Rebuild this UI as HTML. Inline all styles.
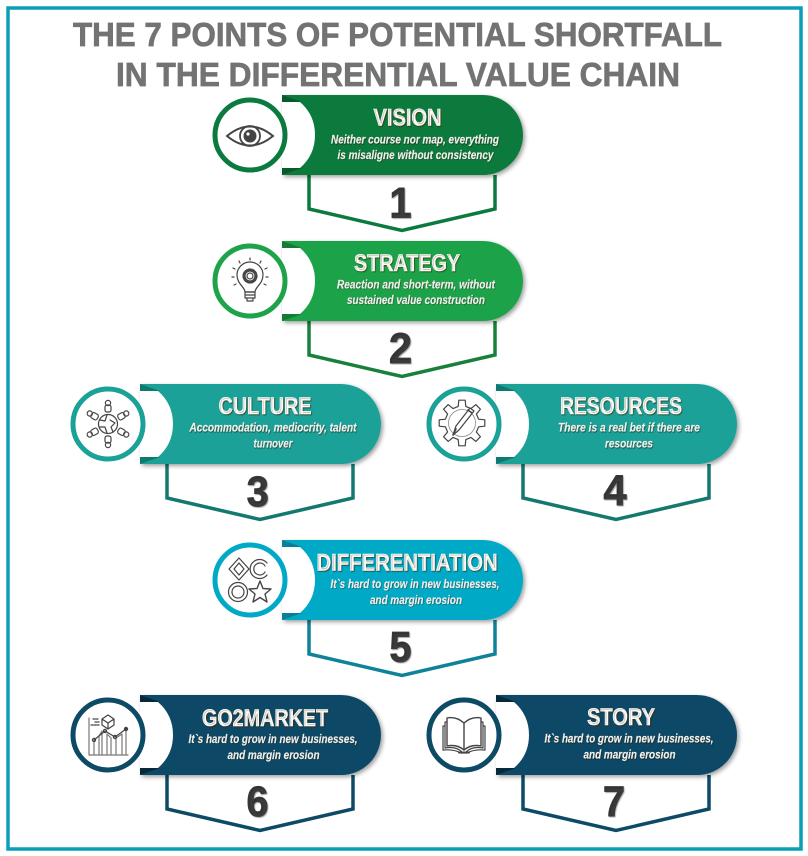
<!DOCTYPE html>
<html lang="en">
<head>
<meta charset="utf-8">
<title>The 7 Points of Potential Shortfall</title>
<style>
html,body{margin:0;padding:0;background:#fff;width:808px;height:856px;overflow:hidden}
svg{display:block}
text{font-family:"Liberation Sans",Arial,sans-serif;font-weight:700}
.h{font-size:33px;fill:#737373;stroke:#737373;stroke-width:.7px}
.t{font-size:24px;fill:#fff;stroke:#fff;stroke-width:.6px;text-anchor:middle;text-shadow:1px 1px 1px rgba(70,40,0,.6)}
.s{font-size:12px;font-style:italic;fill:#fff;stroke:#fff;stroke-width:.15px;text-anchor:middle;text-shadow:.7px .7px .7px rgba(40,30,0,.6)}
.n{font-size:43px;fill:#3b3b3b;stroke:#3b3b3b;stroke-width:1px;text-anchor:middle;text-shadow:1px 1px 1px rgba(0,0,0,.25)}
.i{fill:none;stroke:#444;stroke-width:1.2;stroke-linejoin:round;stroke-linecap:round}
</style>
</head>
<body>
<svg width="808" height="856" viewBox="0 0 808 856" xmlns="http://www.w3.org/2000/svg">
<defs>
<filter id="sh" x="-10%" y="-15%" width="125%" height="140%"><feDropShadow dx="2" dy="2" stdDeviation="2" flood-color="#000" flood-opacity=".38"/></filter>
<path id="ban" d="M0,0H201A40,40 0 0 1 201,80H0Z"/>
<path id="notch" d="M0,7H18Q33,20 33,40Q33,60 18,73H0Z"/>
<path id="fold" d="M0,0L20,7H0ZM0,80L20,73H0Z"/>
<path id="pent" d="M27,80V114L120,135.5L213,114V80" fill="none" stroke-width="3.5" stroke-linejoin="miter"/>
</defs>
<rect width="808" height="856" fill="#fff"/>
<rect x="8" y="8" width="793" height="841" fill="none" stroke="#0a9fb6" stroke-width="3.5"/>
<text class="h" x="73" y="46" textLength="649" lengthAdjust="spacingAndGlyphs">THE 7 POINTS OF POTENTIAL SHORTFALL</text>
<text class="h" x="116" y="86" textLength="564" lengthAdjust="spacingAndGlyphs">IN THE DIFFERENTIAL VALUE CHAIN</text>

<!-- 1 VISION -->
<g transform="translate(282,95)">
<use href="#pent" stroke="#0b7a3e"/>
<use href="#ban" fill="#0b7a3e" filter="url(#sh)"/><use href="#notch" fill="#fff"/><use href="#fold" fill="#075a2d"/>
<circle cx="-32" cy="40" r="35" fill="#fff" stroke="#0b7a3e" stroke-width="5"/>
<g transform="translate(-32,41)">
<path d="M-23,0Q0,-19 23,0Q0,19 -23,0Z" fill="none" stroke="#444" stroke-width="2"/>
<circle r="10" fill="none" stroke="#444" stroke-width="1.8"/>
<circle r="6.5" fill="#444"/><circle cx="-2" cy="-2" r="1.6" fill="#fff"/>
</g>
<text class="t" x="125.5" y="30.5" textLength="68" lengthAdjust="spacingAndGlyphs">VISION</text>
<text class="s" x="133" y="48.7" textLength="168" lengthAdjust="spacingAndGlyphs">Neither course nor map, everything</text>
<text class="s" x="133.5" y="64" textLength="156" lengthAdjust="spacingAndGlyphs">is misaligne without consistency</text>
<text class="n" x="118.5" y="122.5" textLength="22" lengthAdjust="spacingAndGlyphs">1</text>
</g>

<!-- 2 STRATEGY -->
<g transform="translate(282,241)">
<use href="#pent" stroke="#18803a"/>
<use href="#ban" fill="#1fa34a" filter="url(#sh)"/><use href="#notch" fill="#fff"/><use href="#fold" fill="#147a36"/>
<circle cx="-32" cy="40" r="35" fill="#fff" stroke="#1fa34a" stroke-width="5"/>
<g transform="translate(-32,40)" class="i">
<path d="M-5,11C-5,6 -13,3 -13,-6A13,13 0 0 1 13,-6C13,3 5,6 5,11Z"/>
<path d="M-5,11H5V17H-5ZM-5,14H5M-3,17V20H3V17"/>
<circle cy="-5" r="3"/>
<circle cy="-5" r="6.5" stroke-width="2.2" stroke-dasharray="2 1.6"/>
<circle cy="-5" r="5"/>
<path d="M0,-23V-21M-11,-20L-10,-18M11,-20L10,-18M-17,-13L-15,-12M17,-13L15,-12M-18,-4H-16M18,-4H16M-16,4L-14,3M16,4L14,3"/>
</g>
<text class="t" x="125" y="30" textLength="106" lengthAdjust="spacingAndGlyphs">STRATEGY</text>
<text class="s" x="134" y="47.3" textLength="158" lengthAdjust="spacingAndGlyphs">Reaction and short-term, without</text>
<text class="s" x="134" y="63" textLength="138" lengthAdjust="spacingAndGlyphs">sustained value construction</text>
<text class="n" x="118.5" y="122" textLength="23" lengthAdjust="spacingAndGlyphs">2</text>
</g>

<!-- 3 CULTURE -->
<g transform="translate(140,384)">
<use href="#pent" stroke="#13796f"/>
<use href="#ban" fill="#1aa198" filter="url(#sh)"/><use href="#notch" fill="#fff"/><use href="#fold" fill="#12776f"/>
<circle cx="-32" cy="40" r="35" fill="#fff" stroke="#1aa198" stroke-width="5"/>
<g transform="translate(-32,40)" class="i">
<circle r="9.5"/>
<path d="M-8,-4L-3,-3L-1,-9M2,-4L7,-1L3,3L5,8M-8,3L-3,3L-1,9"/>
<g><rect x="-3" y="-19" width="6" height="7" rx="2"/><circle cy="-21" r="2.6"/></g>
<g transform="rotate(60)"><rect x="-3" y="-19" width="6" height="7" rx="2"/><circle cy="-21" r="2.6"/></g>
<g transform="rotate(120)"><rect x="-3" y="-19" width="6" height="7" rx="2"/><circle cy="-21" r="2.6"/></g>
<g transform="rotate(180)"><rect x="-3" y="-19" width="6" height="7" rx="2"/><circle cy="-21" r="2.6"/></g>
<g transform="rotate(240)"><rect x="-3" y="-19" width="6" height="7" rx="2"/><circle cy="-21" r="2.6"/></g>
<g transform="rotate(300)"><rect x="-3" y="-19" width="6" height="7" rx="2"/><circle cy="-21" r="2.6"/></g>
</g>
<text class="t" x="125" y="30" textLength="93" lengthAdjust="spacingAndGlyphs">CULTURE</text>
<text class="s" x="133" y="47.7" textLength="167" lengthAdjust="spacingAndGlyphs">Accommodation, mediocrity, talent</text>
<text class="s" x="133" y="63.7" textLength="39" lengthAdjust="spacingAndGlyphs">turnover</text>
<text class="n" x="117.7" y="122" textLength="22" lengthAdjust="spacingAndGlyphs">3</text>
</g>

<!-- 4 RESOURCES -->
<g transform="translate(496,384)">
<use href="#pent" stroke="#13796f"/>
<use href="#ban" fill="#1aa198" filter="url(#sh)"/><use href="#notch" fill="#fff"/><use href="#fold" fill="#12776f"/>
<circle cx="-32" cy="40" r="35" fill="#fff" stroke="#1aa198" stroke-width="5"/>
<g transform="translate(-34,39)" class="i">
<path d="M-3.8,-16.6L-3.2,-22.8L3.2,-22.8L3.8,-16.6L9,-14.4L13.8,-18.4L18.4,-13.8L14.4,-9L16.6,-3.8L22.8,-3.2L22.8,3.2L16.6,3.8L14.4,9L18.4,13.8L13.8,18.4L9,14.4L3.8,16.6L3.2,22.8L-3.2,22.8L-3.8,16.6L-9,14.4L-13.8,18.4L-18.4,13.8L-14.4,9L-16.6,3.8L-22.8,3.2L-22.8,-3.2L-16.6,-3.8L-14.4,-9L-18.4,-13.8L-13.8,-18.4L-9,-14.4Z"/>
<circle r="13.5" stroke-width=".8" stroke="#888"/>
<path d="M-9,12L-6,3L8,-15L12,-12L-3,7Z" fill="#fff"/>
<path d="M-9,12L-6,6M6,-13L10,-10" stroke-width="1.6"/>
</g>
<text class="t" x="125" y="30" textLength="122" lengthAdjust="spacingAndGlyphs">RESOURCES</text>
<text class="s" x="133" y="47.7" textLength="142" lengthAdjust="spacingAndGlyphs">There is a real bet if there are</text>
<text class="s" x="133" y="63.7" textLength="48" lengthAdjust="spacingAndGlyphs">resources</text>
<text class="n" x="119" y="121" textLength="23" lengthAdjust="spacingAndGlyphs">4</text>
</g>

<!-- 5 DIFFERENTIATION -->
<g transform="translate(282,540)">
<use href="#pent" stroke="#0f8299"/>
<use href="#ban" fill="#00a9c6" filter="url(#sh)"/><use href="#notch" fill="#fff"/><use href="#fold" fill="#0b7f96"/>
<circle cx="-32" cy="40" r="35" fill="#fff" stroke="#00a9c6" stroke-width="5"/>
<g transform="translate(-32,40)" class="i">
<path d="M-11,-22L-1,-11L-11,0L-21,-11Z"/><path d="M-11,-17L-6,-11L-11,-5L-16,-11Z"/>
<path d="M17,-17A9.5,9.5 0 1 0 17,-5"/><path d="M15,-14A6,6 0 1 0 15,-8"/>
<circle cx="-12" cy="12" r="9.5"/><circle cx="-12" cy="12" r="6"/>
<path d="M10,1L13,8.5L21,9L15,14L17,22L10,17.5L3,22L5,14L-1,9L7,8.5Z" stroke-width="1.4"/>
</g>
<text class="t" x="125" y="30.7" textLength="181" lengthAdjust="spacingAndGlyphs">DIFFERENTIATION</text>
<text class="s" x="133" y="48" textLength="169" lengthAdjust="spacingAndGlyphs">It`s hard to grow in new businesses,</text>
<text class="s" x="134" y="64" textLength="92" lengthAdjust="spacingAndGlyphs">and margin erosion</text>
<text class="n" x="118.5" y="121.7" textLength="22" lengthAdjust="spacingAndGlyphs">5</text>
</g>

<!-- 6 GO2MARKET -->
<g transform="translate(140,695)">
<use href="#pent" stroke="#0d4a66"/>
<use href="#ban" fill="#0d4a66" filter="url(#sh)"/><use href="#notch" fill="#fff"/><use href="#fold" fill="#07293a"/>
<circle cx="-32" cy="40" r="35" fill="#fff" stroke="#0d4a66" stroke-width="5"/>
<g transform="translate(-32,40)" class="i">
<path d="M-19,-17V20H20" stroke="#777"/>
<path d="M-14,19V5M-9,19V1L-6,-4V19M-1,19V-1L3,3V19M8,19V3L14,-1V19M18,19V-5" stroke="#777"/>
<path d="M-14,5L-3,-4L7,2L18,-6"/>
<circle cx="-14" cy="5" r="1.6"/><circle cx="-3" cy="-4" r="1.6"/><circle cx="7" cy="2" r="1.6"/><circle cx="18" cy="-6" r="1.6" fill="#444"/>
<path d="M0,-20L6,-16V-10L0,-6L-6,-10V-16ZM-6,-16L0,-12L6,-16M0,-12V-6"/>
<path d="M-15,-16H-9M-13,-13H-9M-17,-10H-9" stroke-dasharray="2 1"/>
</g>
<text class="t" x="125" y="31" textLength="126" lengthAdjust="spacingAndGlyphs">GO2MARKET</text>
<text class="s" x="133" y="48" textLength="169" lengthAdjust="spacingAndGlyphs">It`s hard to grow in new businesses,</text>
<text class="s" x="133.5" y="64" textLength="92" lengthAdjust="spacingAndGlyphs">and margin erosion</text>
<text class="n" x="117.5" y="121" textLength="22" lengthAdjust="spacingAndGlyphs">6</text>
</g>

<!-- 7 STORY -->
<g transform="translate(496,695)">
<use href="#pent" stroke="#0d4a66"/>
<use href="#ban" fill="#0d4a66" filter="url(#sh)"/><use href="#notch" fill="#fff"/><use href="#fold" fill="#07293a"/>
<circle cx="-32" cy="40" r="35" fill="#fff" stroke="#0d4a66" stroke-width="5"/>
<g transform="translate(-32,40)" class="i">
<path d="M0,-12Q-8,-19 -17,-17V11Q-7,9 0,15Q7,9 17,11V-17Q8,-19 0,-12Z" stroke-width="1.4"/>
<path d="M0,-12V15" stroke-width="1.4"/>
<path d="M-17,-13H-19V13Q-8,11 -2,17M17,-13H19V13Q8,11 2,17"/>
<path d="M-19,-9H-21V15Q-10,14 -3,18H3Q10,14 21,15V-9H19"/>
<path d="M-5,17.5H5" stroke-width="2"/>
</g>
<text class="t" x="125" y="30" textLength="68" lengthAdjust="spacingAndGlyphs">STORY</text>
<text class="s" x="133" y="47.7" textLength="169" lengthAdjust="spacingAndGlyphs">It`s hard to grow in new businesses,</text>
<text class="s" x="133.5" y="63.7" textLength="92" lengthAdjust="spacingAndGlyphs">and margin erosion</text>
<text class="n" x="118" y="121" textLength="22" lengthAdjust="spacingAndGlyphs">7</text>
</g>
</svg>
</body>
</html>
